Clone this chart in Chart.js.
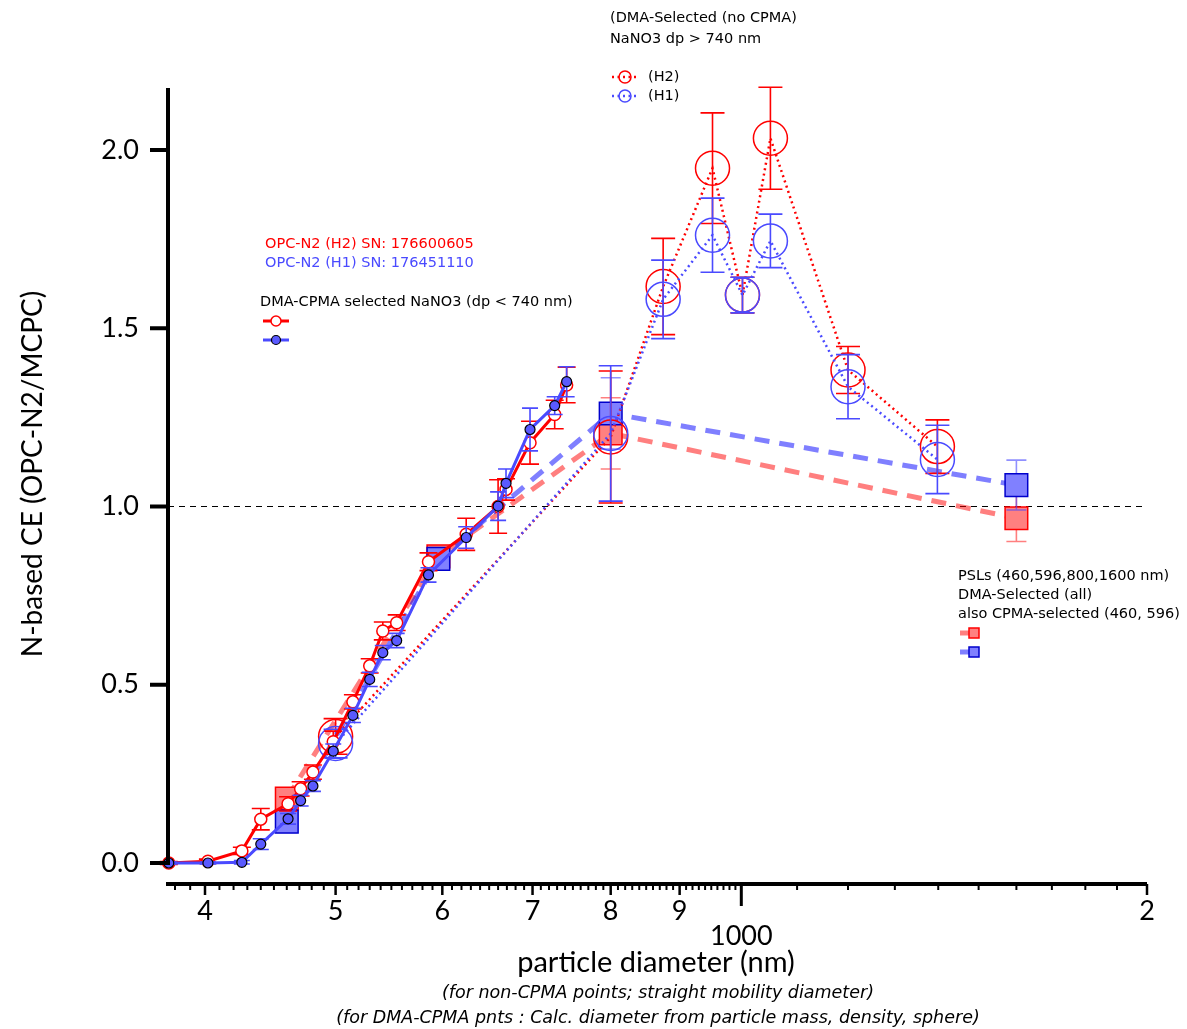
<!DOCTYPE html>
<html>
<head>
<meta charset="utf-8">
<script src="https://cdn.jsdelivr.net/npm/chart.js@4.4.1/dist/chart.umd.min.js"></script>
<style>
  body { margin: 0; background: #fff; }
  #wrap { width: 1187px; height: 1029px; }
</style>
</head>
<body>
<div id="wrap"><canvas id="ceChart" width="1187" height="1029"></canvas></div>
<script>
// DMA-CPMA selected NaNO3, diameter from mass (nm)
const cpmaDiam = [376, 402, 426, 440, 461, 471, 481, 498, 515, 530, 542, 555, 586, 625, 660, 669, 697, 727, 742]
const cpmaH2 = [0.0, 0.005, 0.034, 0.123, 0.166, 0.208, 0.255, 0.34, 0.452, 0.553, 0.651, 0.674, 0.845, 0.922, 1.0, 1.048, 1.179, 1.258, 1.341]
const cpmaH2Err = [0.004, 0.006, 0.01, 0.03, 0.02, 0.02, 0.02, 0.03, 0.02, 0.02, 0.025, 0.022, 0.025, 0.045, 0.075, 0.03, 0.06, 0.04, 0.05]
const cpmaH1 = [0.0, 0.0, 0.002, 0.053, 0.124, 0.175, 0.216, 0.314, 0.414, 0.515, 0.59, 0.624, 0.808, 0.913, 1.001, 1.065, 1.216, 1.283, 1.35]
const cpmaH1Err = [0.003, 0.003, 0.005, 0.015, 0.015, 0.015, 0.015, 0.02, 0.02, 0.02, 0.02, 0.02, 0.02, 0.03, 0.04, 0.04, 0.06, 0.025, 0.042]

// DMA-selected NaNO3 (no CPMA), mobility diameter (nm)
const dmaDiam = [500, 800, 875, 952, 1002, 1051, 1200, 1398]
const dmaH2 = [0.355, 1.195, 1.617, 1.949, 1.593, 2.033, 1.383, 1.168]
const dmaH2Err = [0.05, 0.185, 0.135, 0.155, 0.05, 0.143, 0.066, 0.075]
const dmaH1 = [0.335, 1.205, 1.581, 1.761, 1.593, 1.745, 1.336, 1.132]
const dmaH1Err = [0.04, 0.19, 0.11, 0.104, 0.05, 0.075, 0.09, 0.096]

// PSL spheres
const pslDiam = [460, 596, 800, 1600]
const pslH2 = [0.181, 0.86, 1.205, 0.967]
const pslH2Err = [0.03, 0.02, 0.1, 0.065]
const pslH1 = [0.116, 0.853, 1.261, 1.06]
const pslH1Err = [0.03, 0.02, 0.1, 0.07]

// axis ticks
const yTicks = [0, 0.5, 1.0, 1.5, 2.0]
const xMajor = [400, 500, 600, 700, 800, 900, 1000, 2000]
const xLabels = { 400: '4', 500: '5', 600: '6', 700: '7', 800: '8', 900: '9', 1000: ['', '1000'], 2000: '2' }
const xTicks = []
for (let v = 380; v < 1000; v += 10) xTicks.push(v)
for (let v = 1000; v <= 2000; v += 100) xTicks.push(v)

const RED = '#ff0000'
const BLUE = '#4a4aff'
const RED_LT = 'rgba(255,0,0,0.5)'
const BLUE_LT = 'rgba(0,0,255,0.5)'
const SMALL = '14.5px "DejaVu Sans", Verdana, sans-serif'

const pts = (xs, ys) => xs.map((d, i) => ({ x: d, y: ys[i] }))

// vertical error bars, drawn just under each dataset
const errorBars = {
  id: 'errorBars',
  beforeDatasetDraw(chart, args) {
    const ds = chart.data.datasets[args.index]
    if (!ds.errors) return
    const xs = chart.scales.x, ys = chart.scales.y
    const c = chart.ctx
    c.save()
    c.strokeStyle = ds.errorColor
    c.lineWidth = 1.6
    ds.data.forEach((p, i) => {
      const px = xs.getPixelForValue(p.x)
      const top = ys.getPixelForValue(p.y + ds.errors[i])
      const bot = ys.getPixelForValue(p.y - ds.errors[i])
      const w = ds.capWidth
      c.beginPath()
      c.moveTo(px, top); c.lineTo(px, bot)
      c.moveTo(px - w, top); c.lineTo(px + w, top)
      c.moveTo(px - w, bot); c.lineTo(px + w, bot)
      c.stroke()
    })
    c.restore()
  }
}

// axis lines, tick marks, reference line at 1.0
const axesLines = {
  id: 'axesLines',
  beforeDatasetsDraw(chart) {
    const c = chart.ctx, a = chart.chartArea
    const ys = chart.scales.y
    const y1 = ys.getPixelForValue(1)
    c.save()
    c.strokeStyle = '#000'
    c.lineWidth = 1.2
    c.setLineDash([6, 5])
    c.beginPath(); c.moveTo(a.left, y1); c.lineTo(a.right, y1); c.stroke()
    c.restore()
  },
  afterDraw(chart) {
    const c = chart.ctx, a = chart.chartArea
    const xs = chart.scales.x, ys = chart.scales.y
    c.save()
    c.strokeStyle = '#000'
    c.lineCap = 'butt'
    c.lineWidth = 4
    c.beginPath()
    c.moveTo(a.left, a.top); c.lineTo(a.left, ys.getPixelForValue(0) + 2)
    c.moveTo(a.left - 2, a.bottom); c.lineTo(a.right, a.bottom)
    c.stroke()
    yTicks.forEach(v => {
      const py = ys.getPixelForValue(v)
      c.lineWidth = 4
      c.beginPath(); c.moveTo(a.left - 18, py); c.lineTo(a.left, py); c.stroke()
    })
    xTicks.forEach(v => {
      const px = xs.getPixelForValue(v)
      let len = 6
      c.lineWidth = 2
      if (xMajor.includes(v)) { len = 11; c.lineWidth = 2.5 }
      if (v === 1000) { len = 22; c.lineWidth = 3 }
      c.beginPath(); c.moveTo(px, a.bottom); c.lineTo(px, a.bottom + len); c.stroke()
    })
    c.restore()
  }
}

// titles, notes and legend boxes
const annotations = {
  id: 'annotations',
  afterDraw(chart) {
    const c = chart.ctx
    c.save()
    c.textBaseline = 'middle'
    c.fillStyle = '#000'

    c.font = '29px Lato'
    c.textAlign = 'center'
    c.fillText('particle diameter (nm)', 656, 963)
    c.save()
    c.translate(33, 474)
    c.rotate(-Math.PI / 2)
    c.font = '28px Lato'
    c.fillText('N-based CE (OPC-N2/MCPC)', 0, 0)
    c.restore()

    c.font = 'italic 17.5px "DejaVu Sans", Verdana, sans-serif'
    c.fillText('(for non-CPMA points; straight mobility diameter)', 658, 993)
    c.fillText('(for DMA-CPMA pnts : Calc. diameter from particle mass, density, sphere)', 658, 1018)

    c.textAlign = 'left'
    c.font = SMALL
    c.fillText('(DMA-Selected (no CPMA)', 610, 18)
    c.fillText('NaNO3 dp > 740 nm', 610, 39)
    c.fillText('(H2)', 648, 77)
    c.fillText('(H1)', 648, 96)

    c.fillStyle = RED
    c.fillText('OPC-N2 (H2) SN: 176600605', 265, 244)
    c.fillStyle = BLUE
    c.fillText('OPC-N2 (H1) SN: 176451110', 265, 263)
    c.fillStyle = '#000'
    c.fillText('DMA-CPMA selected NaNO3 (dp < 740 nm)', 260, 302)

    c.fillText('PSLs (460,596,800,1600 nm)', 958, 576)
    c.fillText('DMA-Selected (all)', 958, 595)
    c.fillText('also CPMA-selected (460, 596)', 958, 614)

    // dotted + open circle keys
    ;[[RED, 77], [BLUE, 96]].forEach(([col, y]) => {
      c.strokeStyle = col
      c.lineWidth = 2.5
      c.setLineDash([2, 3.5])
      c.beginPath(); c.moveTo(612, y); c.lineTo(638, y); c.stroke()
      c.setLineDash([])
      c.lineWidth = 1.5
      c.beginPath(); c.arc(625, y, 6, 0, Math.PI * 2); c.stroke()
    })

    // solid line + marker keys
    c.lineWidth = 3
    c.strokeStyle = RED
    c.beginPath(); c.moveTo(263, 321); c.lineTo(289, 321); c.stroke()
    c.fillStyle = '#fff'; c.lineWidth = 1.5
    c.beginPath(); c.arc(276, 321, 5, 0, Math.PI * 2); c.fill(); c.stroke()
    c.lineWidth = 3
    c.strokeStyle = BLUE
    c.beginPath(); c.moveTo(263, 340); c.lineTo(289, 340); c.stroke()
    c.fillStyle = '#5a5aff'; c.strokeStyle = '#000'; c.lineWidth = 1.2
    c.beginPath(); c.arc(276, 340, 4.5, 0, Math.PI * 2); c.fill(); c.stroke()

    // dashed + square keys
    ;[[RED_LT, '#ff8080', RED, 633], [BLUE_LT, '#8080ff', '#0000cc', 652]].forEach(([line, fill, edge, y]) => {
      c.strokeStyle = line; c.lineWidth = 5
      c.beginPath(); c.moveTo(960, y); c.lineTo(970, y); c.stroke()
      c.fillStyle = fill; c.strokeStyle = edge; c.lineWidth = 1.5
      c.fillRect(969, y - 5, 10, 10); c.strokeRect(969, y - 5, 10, 10)
    })
    c.restore()
  }
}

const ctx = document.getElementById('ceChart')
new Chart(ctx, {
  type: 'line',
  data: {
    datasets: [
      {
        label: 'DMA-CPMA H1', data: pts(cpmaDiam, cpmaH1), errors: cpmaH1Err, errorColor: BLUE, capWidth: 8,
        borderColor: BLUE, borderWidth: 3, pointRadius: 5, pointBackgroundColor: '#5a5aff',
        pointBorderColor: '#000', pointBorderWidth: 1.2
      },
      {
        label: 'DMA-CPMA H2', data: pts(cpmaDiam, cpmaH2), errors: cpmaH2Err, errorColor: RED, capWidth: 9,
        borderColor: RED, borderWidth: 3, pointRadius: 6, pointBackgroundColor: '#fff',
        pointBorderColor: RED, pointBorderWidth: 1.5
      },
      {
        label: 'DMA H1', data: pts(dmaDiam, dmaH1), errors: dmaH1Err, errorColor: BLUE, capWidth: 12,
        borderColor: BLUE, borderWidth: 2.5, borderDash: [2, 3.5], pointRadius: 17,
        pointBackgroundColor: 'rgba(0,0,0,0)', pointBorderColor: BLUE, pointBorderWidth: 1.5
      },
      {
        label: 'DMA H2', data: pts(dmaDiam, dmaH2), errors: dmaH2Err, errorColor: RED, capWidth: 12,
        borderColor: RED, borderWidth: 2.5, borderDash: [2, 3.5], pointRadius: 17,
        pointBackgroundColor: 'rgba(0,0,0,0)', pointBorderColor: RED, pointBorderWidth: 1.5
      },
      {
        label: 'PSL H1', data: pts(pslDiam, pslH1), errors: pslH1Err, errorColor: 'rgba(70,70,255,0.6)', capWidth: 10,
        borderColor: BLUE_LT, borderWidth: 5, borderDash: [15, 10], pointStyle: 'rect', pointRadius: 16,
        pointBackgroundColor: '#8080ff', pointBorderColor: '#0000cc', pointBorderWidth: 1.5
      },
      {
        label: 'PSL H2', data: pts(pslDiam, pslH2), errors: pslH2Err, errorColor: 'rgba(255,0,0,0.5)', capWidth: 10,
        borderColor: RED_LT, borderWidth: 5, borderDash: [15, 10], pointStyle: 'rect', pointRadius: 16,
        pointBackgroundColor: '#ff8080', pointBorderColor: RED, pointBorderWidth: 1.5
      }
    ]
  },
  options: {
    responsive: false,
    animation: false,
    devicePixelRatio: 1,
    clip: false,
    layout: { padding: { top: 88, right: 40, left: 0, bottom: 0 } },
    elements: { line: { tension: 0 } },
    plugins: { legend: { display: false }, tooltip: { enabled: false } },
    scales: {
      x: {
        type: 'logarithmic', min: 375.5, max: 2000,
        afterBuildTicks: s => { s.ticks = xTicks.map(v => ({ value: v })) },
        afterFit: s => { s.height = 145 },
        grid: { display: false, drawTicks: false },
        border: { display: false },
        ticks: {
          autoSkip: false, maxRotation: 0, minRotation: 0, padding: 14, color: '#000',
          font: { family: 'Lato', size: 27, lineHeight: 0.95 },
          callback: v => xLabels[v] || ''
        }
      },
      y: {
        type: 'linear', min: -0.0589, max: 2.1739,
        afterBuildTicks: s => { s.ticks = yTicks.map(v => ({ value: v })) },
        afterFit: s => { s.width = 168 },
        grid: { display: false, drawTicks: false },
        border: { display: false },
        ticks: {
          padding: 29, color: '#000',
          font: { family: 'Lato', size: 27 },
          callback: v => v.toFixed(1)
        }
      }
    }
  },
  plugins: [errorBars, axesLines, annotations]
})
</script>
</body>
</html>
